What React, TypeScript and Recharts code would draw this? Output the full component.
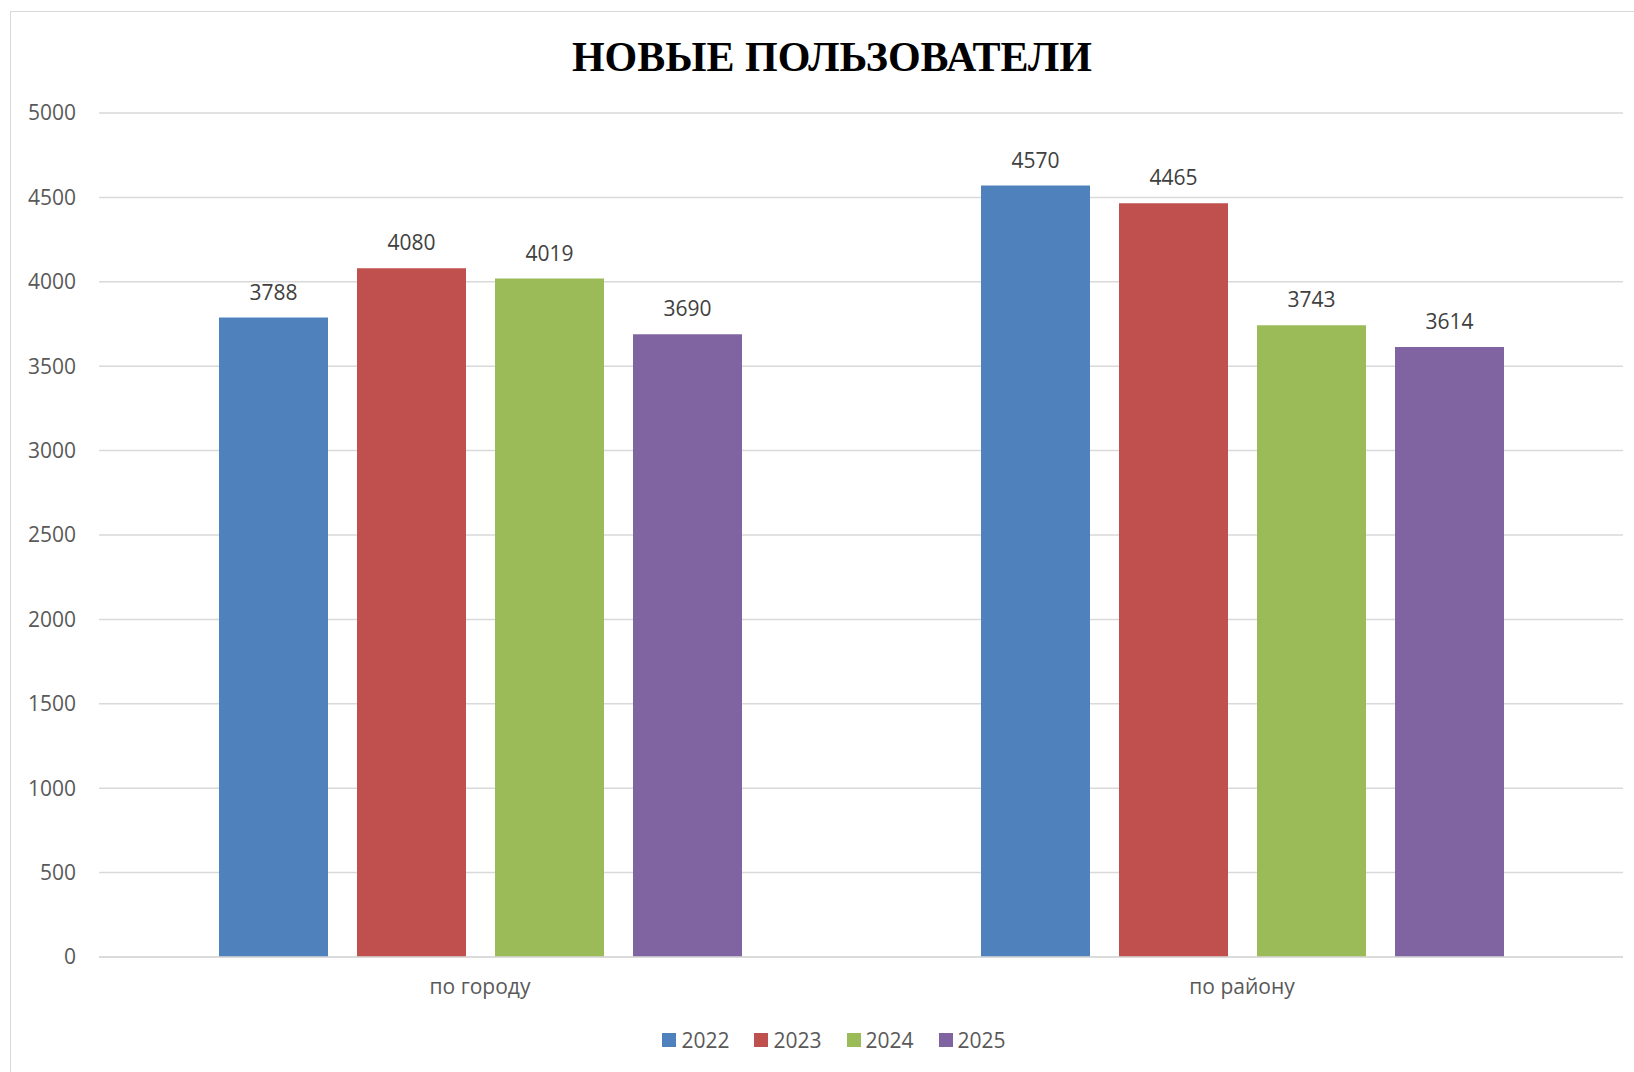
import React from "react";
import { BarChart, Bar, XAxis, YAxis, CartesianGrid, LabelList } from "recharts";

const categories = ["по городу", "по району"];
const years = ["2022", "2023", "2024", "2025"];
const values2022 = [3788, 4570];
const values2023 = [4080, 4465];
const values2024 = [4019, 3743];
const values2025 = [3690, 3614];
const yTicks = [0, 500, 1000, 1500, 2000, 2500, 3000, 3500, 4000, 4500, 5000];

const COLORS = ["#4F81BD", "#C0504D", "#9BBB59", "#8064A2"];
const FONT = "'Open Sans', 'Liberation Sans', sans-serif";

const seriesValues = [values2022, values2023, values2024, values2025];
const chartData = categories.map((name, i) => {
  const row: Record<string, string | number> = { name };
  years.forEach((y, k) => {
    row[y] = seriesValues[k][i];
  });
  return row;
});

function LegendBox() {
  return (
    <div
      style={{
        position: "absolute",
        left: 2,
        top: 1026,
        width: 1664,
        display: "flex",
        justifyContent: "center",
        gap: 25,
        fontFamily: FONT,
        fontSize: 21,
        color: "#595959",
      }}
    >
      {years.map((y, i) => (
        <div key={y} style={{ display: "flex", alignItems: "center", gap: 5 }}>
          <span style={{ width: 14, height: 14, background: COLORS[i], display: "inline-block" }} />
          <span>{y}</span>
        </div>
      ))}
    </div>
  );
}

export default function App() {
  return (
    <div style={{ position: "fixed", left: 0, top: 0, width: 1634, height: 1072, background: "#fff", overflow: "hidden" }}>
      {/* рамка диаграммы */}
      <div style={{ position: "absolute", left: 10, top: 11, width: 1660, height: 1100, border: "1.5px solid #d9d9d9" }} />
      <div
        style={{
          position: "absolute",
          left: 0,
          top: 33,
          width: 1664,
          textAlign: "center",
          fontFamily: "'Liberation Serif', 'Times New Roman', serif",
          fontWeight: "bold",
          fontSize: 42,
          color: "#000",
        }}
      >
        НОВЫЕ ПОЛЬЗОВАТЕЛИ
      </div>
      <BarChart
        width={1634}
        height={1072}
        data={chartData}
        margin={{ top: 113, right: 11, left: 0, bottom: 55 }}
        barSize={109}
        barGap={29}
      >
        <CartesianGrid vertical={false} stroke="#d9d9d9" strokeWidth={1.5} />
        <XAxis
          dataKey="name"
          axisLine={{ stroke: "#d9d9d9", strokeWidth: 1.5 }}
          tickLine={false}
          tickSize={0}
          tickMargin={22}
          height={60}
          tick={{ fontSize: 21, fill: "#595959", fontFamily: FONT }}
        />
        <YAxis
          domain={[0, 5000]}
          ticks={yTicks}
          axisLine={false}
          tickLine={false}
          tickSize={0}
          tickMargin={23}
          width={99}
          interval={0}
          tick={{ fontSize: 21, fill: "#595959", fontFamily: FONT }}
        />
        {years.map((y, i) => (
          <Bar key={y} dataKey={y} fill={COLORS[i]} isAnimationActive={false}>
            <LabelList dataKey={y} position="top" offset={18} fill="#404040" fontSize={21} fontFamily={FONT} />
          </Bar>
        ))}
      </BarChart>
      <LegendBox />
    </div>
  );
}
